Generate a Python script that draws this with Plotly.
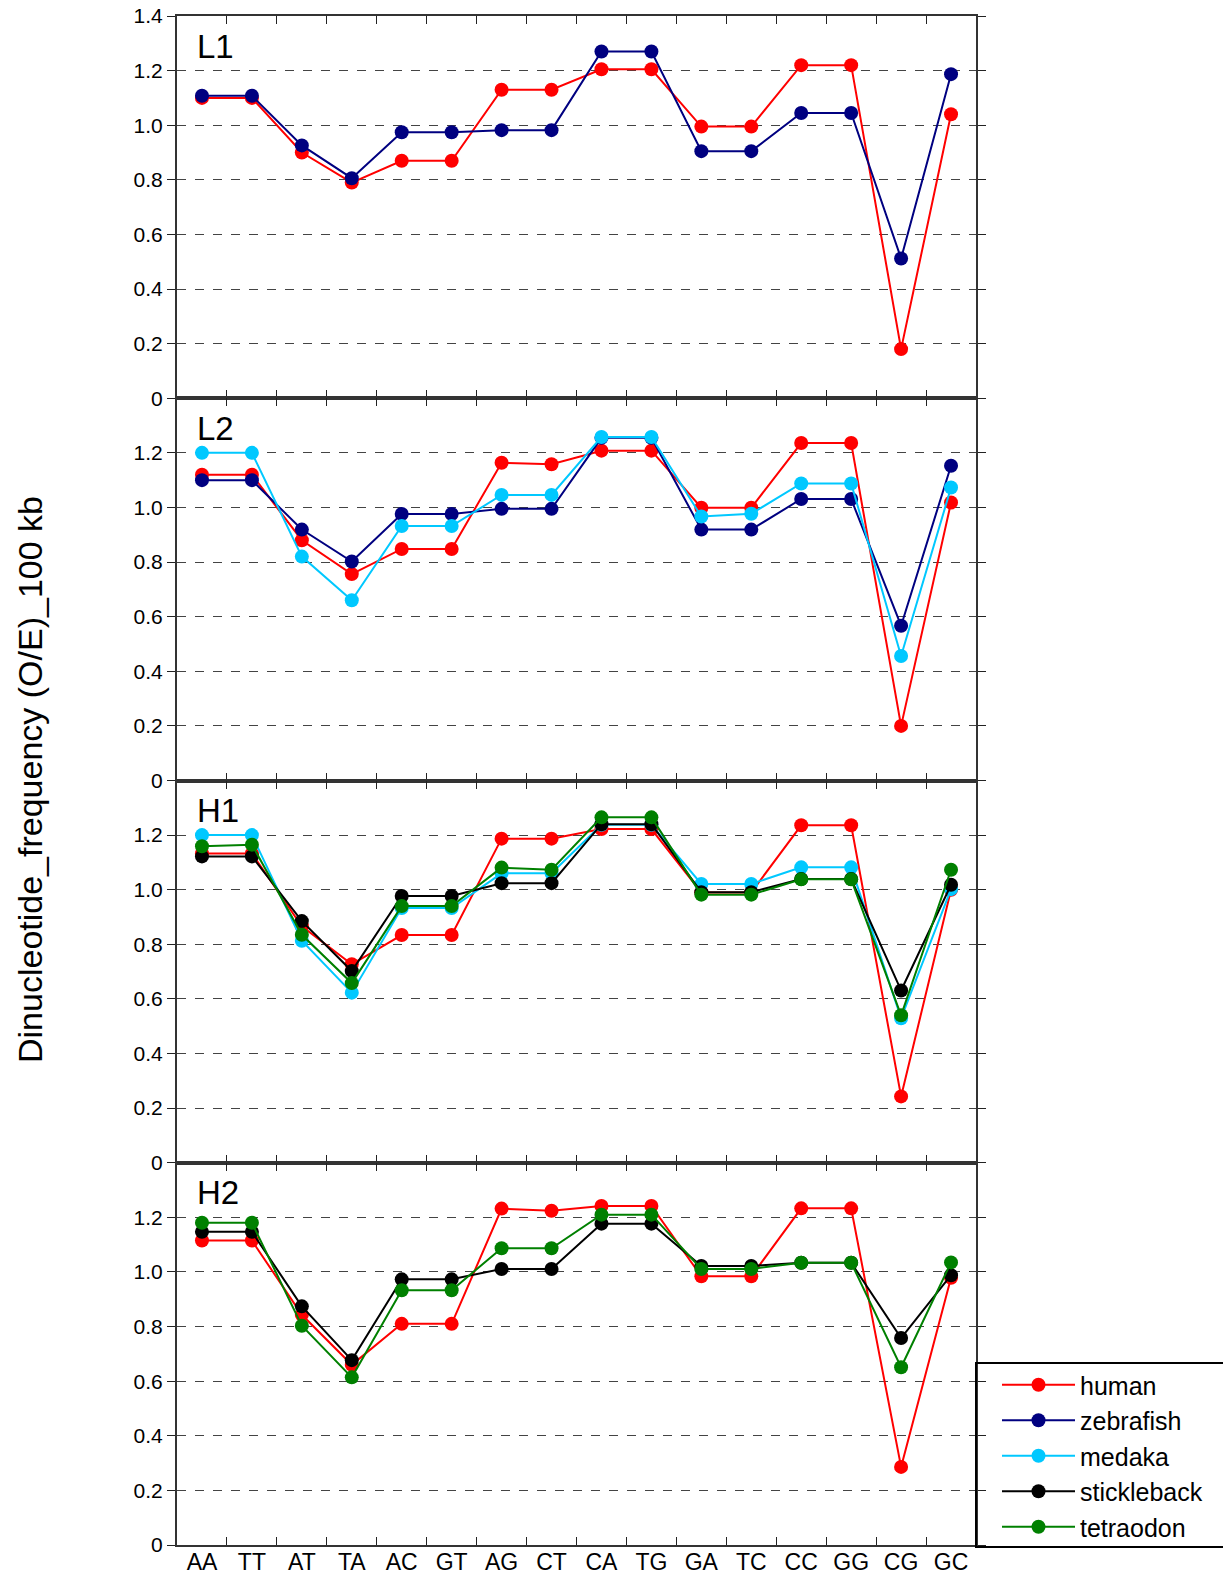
import plotly.graph_objects as go
from plotly.subplots import make_subplots

categories = ["AA", "TT", "AT", "TA", "AC", "GT", "AG", "CT", "CA", "TG", "GA", "TC", "CC", "GG", "CG", "GC"]
panel_labels = ["L1", "L2", "H1", "H2"]
species = ["human", "zebrafish", "medaka", "stickleback", "tetraodon"]
species_colors = {"human": "#ff0000", "zebrafish": "#000080", "medaka": "#00c8ff",
                  "stickleback": "#000000", "tetraodon": "#008000"}

L1_human = [1.10, 1.10, 0.90, 0.79, 0.87, 0.87, 1.13, 1.13, 1.205, 1.205, 0.995, 0.995, 1.22, 1.22, 0.18, 1.04]
L1_zebrafish = [1.108, 1.108, 0.926, 0.806, 0.974, 0.974, 0.982, 0.982, 1.27, 1.27, 0.905, 0.905, 1.045, 1.045, 0.512, 1.187]

L2_human = [1.12, 1.12, 0.88, 0.756, 0.848, 0.848, 1.164, 1.158, 1.208, 1.208, 0.999, 0.999, 1.236, 1.236, 0.20, 1.018]
L2_zebrafish = [1.10, 1.10, 0.919, 0.802, 0.976, 0.976, 0.995, 0.995, 1.255, 1.255, 0.919, 0.919, 1.031, 1.031, 0.567, 1.153]
L2_medaka = [1.20, 1.20, 0.82, 0.66, 0.932, 0.932, 1.046, 1.046, 1.258, 1.258, 0.967, 0.977, 1.088, 1.088, 0.456, 1.073]

H1_human = [1.133, 1.133, 0.866, 0.727, 0.834, 0.834, 1.187, 1.187, 1.222, 1.222, 0.99, 0.99, 1.236, 1.236, 0.243, 1.0]
H1_medaka = [1.20, 1.20, 0.813, 0.623, 0.933, 0.933, 1.06, 1.06, 1.238, 1.238, 1.021, 1.021, 1.082, 1.082, 0.529, 1.002]
H1_stickleback = [1.122, 1.122, 0.885, 0.702, 0.977, 0.977, 1.024, 1.024, 1.24, 1.24, 0.991, 0.991, 1.039, 1.039, 0.631, 1.018]
H1_tetraodon = [1.159, 1.165, 0.835, 0.658, 0.94, 0.94, 1.081, 1.073, 1.265, 1.265, 0.982, 0.982, 1.038, 1.038, 0.54, 1.073]

H2_human = [1.115, 1.115, 0.843, 0.66, 0.81, 0.81, 1.232, 1.224, 1.242, 1.242, 0.984, 0.984, 1.233, 1.233, 0.286, 0.979]
H2_stickleback = [1.147, 1.147, 0.874, 0.677, 0.973, 0.973, 1.011, 1.011, 1.177, 1.177, 1.022, 1.022, 1.034, 1.034, 0.758, 0.988]
H2_tetraodon = [1.18, 1.18, 0.803, 0.614, 0.933, 0.933, 1.087, 1.087, 1.21, 1.21, 1.011, 1.011, 1.034, 1.034, 0.651, 1.035]

panels = [
    [("human", L1_human), ("zebrafish", L1_zebrafish)],
    [("human", L2_human), ("zebrafish", L2_zebrafish), ("medaka", L2_medaka)],
    [("human", H1_human), ("medaka", H1_medaka), ("stickleback", H1_stickleback), ("tetraodon", H1_tetraodon)],
    [("human", H2_human), ("stickleback", H2_stickleback), ("tetraodon", H2_tetraodon)],
]

FONT = "Liberation Sans, Arial, Helvetica, sans-serif"
W, H = 1223, 1579
OFF = 0  # body margin removed via post_script
# desired page-pixel positions of the plot frame
P_LEFT, P_RIGHT, P_TOP, P_BOTTOM = 177, 976, 16, 1545
ML = P_LEFT - OFF
MT = P_TOP - OFF
MR = W - (P_RIGHT - OFF)
MB = H - (P_BOTTOM - OFF)
PW = W - ML - MR
PH = H - MT - MB


def px(x):
    return (x - OFF - ML) / PW


def py(y):
    return (H - MB - (y - OFF)) / PH


fig = make_subplots(rows=4, cols=1, shared_xaxes=True, vertical_spacing=0)

shown = set()
for r, series in enumerate(panels, start=1):
    for name, vals in series:
        fig.add_trace(go.Scatter(
            x=categories, y=vals, name=name, mode="lines+markers",
            line=dict(color=species_colors[name], width=2),
            marker=dict(color=species_colors[name], size=14, symbol="circle"),
            showlegend=name not in shown, legendrank=species.index(name) + 1,
        ), row=r, col=1)
        shown.add(name)

for r in range(1, 5):
    fig.update_xaxes(
        type="category", categoryorder="array", categoryarray=categories,
        range=[-0.5, 15.5], tickson="boundaries", ticks="inside", ticklen=8,
        tickwidth=1, tickcolor="#222", showline=True, linewidth=2, linecolor="#333",
        mirror="ticks", showgrid=False, zeroline=False, automargin=False,
        ticklabeloverflow="allow", ticklabelstandoff=-5,
        showticklabels=(r == 4), tickfont=dict(family=FONT, size=23, color="black"),
        row=r, col=1)
    if r == 1:
        tv = [0, 0.2, 0.4, 0.6, 0.8, 1.0, 1.2, 1.4]
    else:
        tv = [0, 0.2, 0.4, 0.6, 0.8, 1.0, 1.2]
    tt = ["0" if v == 0 else f"{v:.1f}" for v in tv]
    fig.update_yaxes(
        range=[0, 1.4], tickmode="array", tickvals=tv, ticktext=tt,
        ticks="outside", ticklen=8, tickwidth=1, tickcolor="#222",
        showline=True, linewidth=2, linecolor="#333", mirror="ticks",
        showgrid=True, gridcolor="#444", gridwidth=1, griddash="dash",
        zeroline=False, automargin=False, ticklabeloverflow="allow",
        tickfont=dict(family=FONT, size=21, color="black"),
        row=r, col=1)

for r, lab in enumerate(panel_labels, start=1):
    yref = "y domain" if r == 1 else f"y{r} domain"
    xref = "x domain" if r == 1 else f"x{r} domain"
    fig.add_annotation(text=lab, xref=xref, yref=yref, x=0.022, y=0.975,
                       xanchor="left", yanchor="top", showarrow=False,
                       font=dict(family=FONT, size=33, color="black"))

fig.add_annotation(text="Dinucleotide_frequency (O/E)_100 kb", xref="paper", yref="paper",
                   x=px(30), y=py(780), xanchor="center", yanchor="middle", textangle=-90,
                   showarrow=False, font=dict(family=FONT, size=34, color="black"))

# legend frame
fig.add_shape(type="rect", xref="paper", yref="paper",
              x0=px(976), x1=px(1232), y0=py(1547), y1=py(1363),
              line=dict(color="black", width=2), fillcolor="rgba(0,0,0,0)", layer="above")

fig.update_layout(
    width=W, height=H,
    margin=dict(l=ML, r=MR, t=MT, b=MB, pad=0, autoexpand=False),
    plot_bgcolor="white", paper_bgcolor="white",
    font=dict(family=FONT, color="black"),
    legend=dict(x=px(997), xanchor="left", y=py(1456), yanchor="middle",
                bgcolor="rgba(0,0,0,0)", borderwidth=0,
                font=dict(family=FONT, size=25, color="black"),
                itemwidth=73, tracegroupgap=0),
)

fig.write_html("out.html", config={"displayModeBar": False},
               post_script="document.body.style.margin='0px';document.body.style.overflow='hidden';")
